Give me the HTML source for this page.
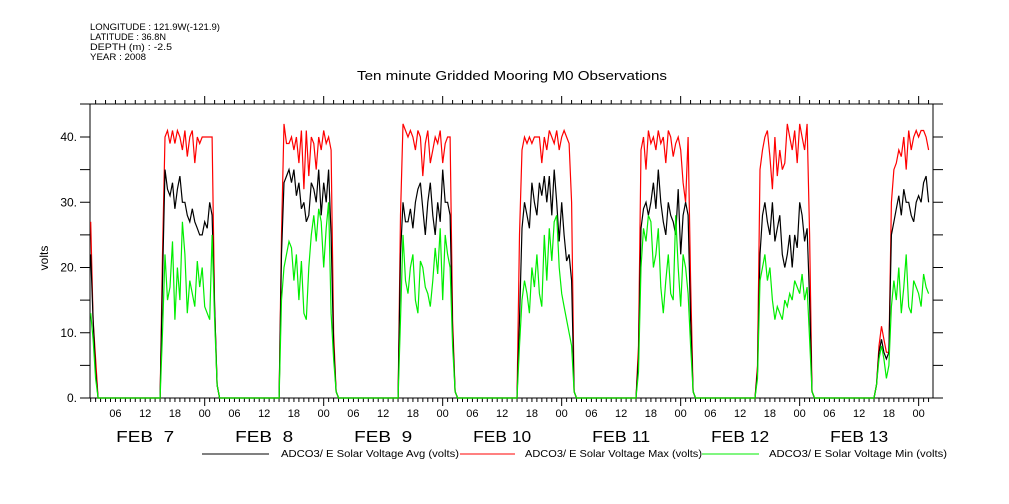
<!DOCTYPE html>
<html><head><meta charset="utf-8"><style>
body{margin:0;background:#fff;}
svg{display:block;font-family:"Liberation Sans",sans-serif;}
</style></head><body>
<svg id="c" width="1009" height="504" viewBox="0 0 1009 504">
<g font-size="9.5" fill="#000">
<text x="90" y="30" textLength="130" lengthAdjust="spacingAndGlyphs">LONGITUDE : 121.9W(-121.9)</text>
<text x="90" y="40" textLength="76" lengthAdjust="spacingAndGlyphs">LATITUDE : 36.8N</text>
<text x="90" y="50" textLength="82" lengthAdjust="spacingAndGlyphs">DEPTH (m) : -2.5</text>
<text x="90" y="60" textLength="56" lengthAdjust="spacingAndGlyphs">YEAR : 2008</text>
</g>
<text x="357" y="80" font-size="13" textLength="310" lengthAdjust="spacingAndGlyphs">Ten minute Gridded Mooring M0 Observations</text>
<text transform="translate(48,258) rotate(-90)" font-size="12" text-anchor="middle">volts</text>
<g id="axes"></g>
<g id="series"></g>
<g font-size="10">
<line x1="202" y1="454" x2="269" y2="454" stroke="#000"/>
<text x="281" y="457" textLength="178" lengthAdjust="spacingAndGlyphs">ADCO3/ E Solar Voltage Avg (volts)</text>
<line x1="460" y1="454" x2="515" y2="454" stroke="#f00"/>
<text x="525" y="457" textLength="177" lengthAdjust="spacingAndGlyphs">ADCO3/ E Solar Voltage Max (volts)</text>
<line x1="702" y1="454" x2="759" y2="454" stroke="#0e0"/>
<text x="769" y="457" textLength="178" lengthAdjust="spacingAndGlyphs">ADCO3/ E Solar Voltage Min (volts)</text>
</g>
</svg>
<script>
// hours since Feb 7 00:00
const startHours=[1,1.5,2,2.5];
const startMax=[27,12,6,0];
const startAvg=[22,12,4,0];
const startMin=[13,9,3,0];
const dayLabels=["FEB  7","FEB  8","FEB  9","FEB 10","FEB 11","FEB 12","FEB 13"];
const slotHours=[14.5,15,15.5,16,16.5,17,17.5,18,18.5,19,19.5,20,20.5,21,21.5,22,22.5,23,23.5,24,24.5,25,25.5,26,26.5,27];
const maxDays=[
[0,0,22,40,41,39,41,39,41,40,38,41,37,40,41,36,40,39,40,40,40,40,40,14,2,0],
[0,0,25,42,39,39,40,38,40,36,41,32,41,34,40,39,35,40,38,41,39,40,38,10,1,0],
[0,0,28,42,41,40,41,40,38,41,40,34,39,41,36,38,40,39,41,36,39,40,40,12,1,0],
[0,0,25,38,40,39,40,39,40,40,40,36,40,38,41,40,39,41,38,40,41,40,39,30,1,0],
[0,0,8,38,40,35,41,39,40,38,41,39,40,36,41,40,37,39,40,38,33,30,40,18,1,0],
[0,0,5,35,38,40,41,37,32,40,34,38,35,36,42,40,38,41,36,42,40,38,42,25,1,0],
[0,0,2,8,11,9,7,7,30,35,36,38,37,40,35,41,38,40,41,40,41,41,40,38]];
const avgDays=[
[0,0,18,35,32,31,33,29,32,34,30,30,28,27,29,27,26,25,25,27,26,30,28,14,2,0],
[0,0,22,33,34,35,33,35,31,33,29,30,27,28,33,32,30,35,28,33,30,35,25,8,1,0],
[0,0,22,30,27,27,29,26,30,32,33,29,25,30,33,28,25,30,27,35,30,30,28,10,1,0],
[0,0,12,26,30,28,26,33,30,28,33,31,34,30,34,28,35,30,24,30,25,21,22,18,1,0],
[0,0,6,26,29,30,28,30,33,29,35,30,27,25,30,28,27,25,32,22,28,30,28,12,1,0],
[0,0,4,22,28,30,27,25,30,24,26,28,22,20,22,25,20,25,23,30,28,24,26,15,1,0],
[0,0,2,7,9,7,6,7,25,27,29,31,28,32,30,30,28,27,30,31,30,33,34,30]];
const minDays=[
[0,0,10,22,15,17,24,12,20,15,27,22,13,18,16,14,21,17,20,14,13,12,25,12,2,0],
[0,0,15,20,22,24,23,18,22,15,21,13,12,20,25,28,24,29,27,20,26,30,13,6,1,0],
[0,0,12,25,18,16,20,22,15,13,21,20,17,16,14,18,23,19,26,15,25,22,20,8,1,0],
[0,0,8,15,18,16,13,20,17,22,16,14,25,18,26,21,27,28,20,16,14,12,10,8,1,0],
[0,0,4,20,26,24,28,27,20,22,26,17,13,18,22,16,15,28,20,14,22,20,16,8,1,0],
[0,0,3,18,20,22,18,20,15,12,14,13,12,15,14,16,15,18,17,16,19,15,17,9,1,0],
[0,0,2,6,8,6,3,5,14,18,15,20,13,17,22,14,13,18,17,16,14,19,17,16]];
const yTicks=[0,10,20,30,40];

const NS="http://www.w3.org/2000/svg";
const X0=85.7,PXH=4.958,Y0=398,PXV=6.525,L=90,R=933,T=104;
function xs(h){return X0+h*PXH;}
function ys(v){return Y0-v*PXV;}
function mk(tag,attrs,parent){const e=document.createElementNS(NS,tag);for(const k in attrs)e.setAttribute(k,attrs[k]);parent.appendChild(e);return e;}
const axes=document.getElementById('axes'),series=document.getElementById('series');
let e;
e=mk('path',{d:`M80 ${T}H943M${L} ${T}V${Y0}M80 ${Y0}H943M${R} ${T}V${Y0}`,stroke:'#000',fill:'none','stroke-width':1},axes);


let d='';
for(let v=0;v<=40;v+=5){const y=ys(v);d+=`M80 ${y}H${L}M${R} ${y}H943`;}
for(let h=1;h<=170;h++){const x=xs(h);const maj=h%24===0;d+=`M${x} ${Y0}v${maj?8:4}`;}
for(let h=2;h<=170;h+=2){const x=xs(h);const maj=h%24===0;d+=`M${x} ${T}v${maj?-8:-4}`;}
e=mk('path',{d:d,stroke:'#000','stroke-width':1,fill:'none'},axes);


yTicks.forEach(v=>{const t=mk('text',{x:77,y:ys(v)+4,'font-size':12,'text-anchor':'end'},axes);t.textContent=v+'.';

});
for(let h=6;h<=168;h+=6){const t=mk('text',{x:xs(h),y:417,'font-size':11,'text-anchor':'middle'},axes);const hh=h%24;t.textContent=String(hh).padStart(2,'0');

}
dayLabels.forEach((s,i)=>{const t=mk('text',{x:xs(i*24+12)-29,y:442,'font-size':16,textLength:58,lengthAdjust:'spacingAndGlyphs'},axes);t.textContent=s;t.style.whiteSpace='pre';

});
function build(startVals,days){
  const pts=[];startHours.forEach((h,i)=>pts.push([h,startVals[i]]));
  days.forEach((arr,di)=>arr.forEach((v,si)=>pts.push([di*24+slotHours[si],v])));
  return pts.map((p,i)=>(i?'L':'M')+xs(p[0]).toFixed(1)+' '+ys(p[1]).toFixed(1)).join('');
}
[['series-max',startMax,maxDays,'#f00'],['series-avg',startAvg,avgDays,'#000'],['series-min',startMin,minDays,'#0e0']].forEach(s=>{
  const p=mk('path',{d:build(s[1],s[2]),stroke:s[3],fill:'none','stroke-width':1.2},series);
  
  
});
</script>
</body></html>
